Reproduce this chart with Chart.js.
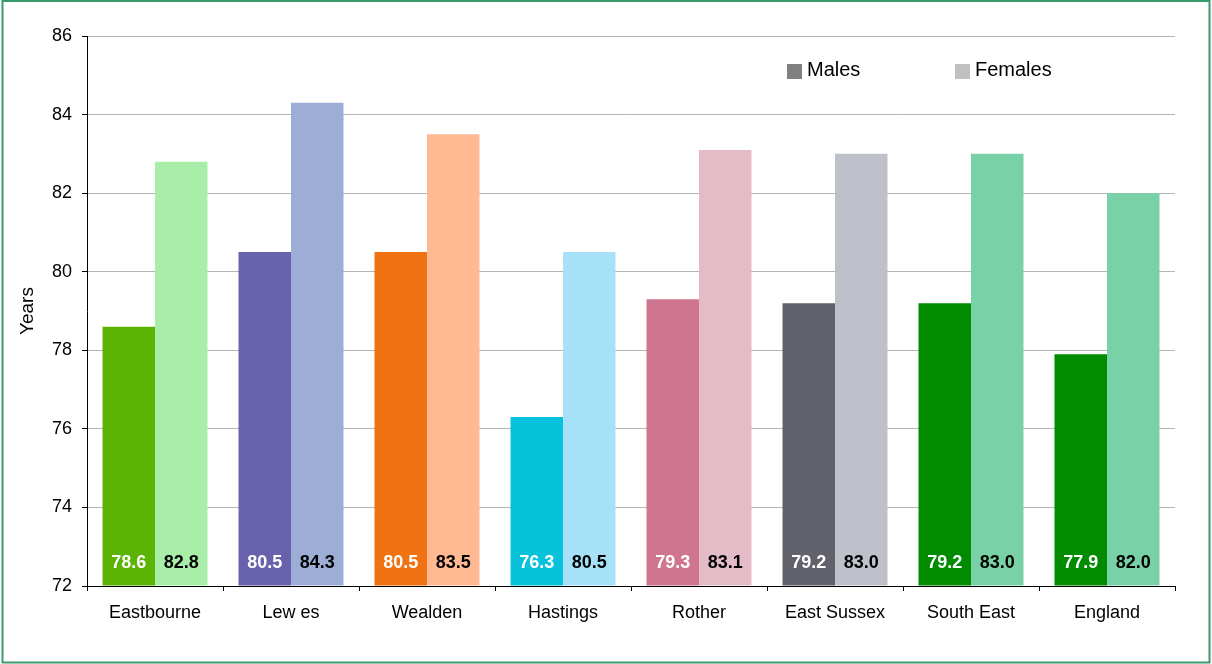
<!DOCTYPE html>
<html>
<head>
<meta charset="utf-8">
<script src="https://cdn.jsdelivr.net/npm/chart.js@4.4.0/dist/chart.umd.min.js"></script>
<style>
  html, body { margin: 0; padding: 0; background: #ffffff; }
  #wrap { width: 1212px; height: 664px; position: relative; }
  canvas { display: block; }
</style>
</head>
<body>
<div id="wrap"><canvas id="c" width="1212" height="664"></canvas></div>
<script>
const categories = ["Eastbourne", "Lew es", "Wealden", "Hastings", "Rother", "East Sussex", "South East", "England"];
const males   = [78.6, 80.5, 80.5, 76.3, 79.3, 79.2, 79.2, 77.9];
const females = [82.8, 84.3, 83.5, 80.5, 83.1, 83.0, 83.0, 82.0];
const yTicks  = [72, 74, 76, 78, 80, 82, 84, 86];
const seriesNames = ["Males", "Females"];

const maleColors   = ["#5bb304", "#6762ab", "#f07213", "#08c2dc", "#d07590", "#61616b", "#008b00", "#008b00"];
const femaleColors = ["#a8eea8", "#9caed6", "#ffb993", "#a6e1f7", "#e3bcc7", "#bec1c9", "#79d2a7", "#79d2a7"];
const legendColors = ["#808080", "#c0c0c0"];

const FONT = "'Liberation Sans', Arial, sans-serif";

const frame = {
  id: 'frame',
  afterDraw(chart) {
    const ctx = chart.ctx;
    ctx.save();
    ctx.strokeStyle = '#3a9a6c';
    ctx.lineWidth = 2;
    ctx.strokeRect(2.5, 1, 1207, 661.5);
    ctx.restore();
  }
};

const barLabels = {
  id: 'barLabels',
  afterDatasetsDraw(chart) {
    const ctx = chart.ctx;
    const yBase = chart.scales.y.getPixelForValue(72);
    ctx.save();
    ctx.font = "bold 18px " + FONT;
    ctx.textAlign = 'center';
    ctx.textBaseline = 'middle';
    chart.data.datasets.forEach((ds, i) => {
      const meta = chart.getDatasetMeta(i);
      meta.data.forEach((bar, j) => {
        ctx.fillStyle = i === 0 ? '#ffffff' : '#000000';
        ctx.fillText(ds.data[j].toFixed(1), bar.x, yBase - 23);
      });
    });
    ctx.restore();
  }
};

const customLegend = {
  id: 'customLegend',
  afterDraw(chart) {
    const ctx = chart.ctx;
    const ca = chart.chartArea;
    const items = [
      { x: ca.left + 700, label: seriesNames[0], color: legendColors[0] },
      { x: ca.left + 868, label: seriesNames[1], color: legendColors[1] }
    ];
    const y = ca.top + 28;
    ctx.save();
    ctx.font = "20px " + FONT;
    ctx.textBaseline = 'middle';
    ctx.textAlign = 'left';
    items.forEach(it => {
      ctx.fillStyle = it.color;
      ctx.fillRect(it.x, y, 15, 15);
      ctx.fillStyle = '#000000';
      ctx.fillText(it.label, it.x + 20, y + 6);
    });
    ctx.restore();
  }
};

new Chart(document.getElementById('c'), {
  type: 'bar',
  data: {
    labels: categories,
    datasets: [
      { label: seriesNames[0], data: males, backgroundColor: maleColors, borderWidth: 0, base: 72 },
      { label: seriesNames[1], data: females, backgroundColor: femaleColors, borderWidth: 0, base: 72 }
    ]
  },
  options: {
    responsive: false,
    animation: false,
    devicePixelRatio: 1,
    layout: { padding: { top: 36, right: 37, left: 0, bottom: 0 } },
    plugins: { legend: { display: false }, tooltip: { enabled: false } },
    datasets: { bar: { categoryPercentage: 0.772, barPercentage: 1.0 } },
    scales: {
      x: {
        offset: true,
        grid: { display: true, offset: true, drawOnChartArea: false, drawTicks: true, tickLength: 5, tickColor: '#000000' },
        border: { display: true, color: '#000000', width: 1 },
        ticks: { color: '#000000', font: { family: FONT, size: 18 }, padding: 11, maxRotation: 0, autoSkip: false },
        afterFit(scale) { scale.height = 78; }
      },
      y: {
        min: 72, max: 86,
        afterBuildTicks(scale) { scale.ticks = yTicks.map(v => ({ value: v })); },
        grid: { color: '#b4b4b4', lineWidth: 1, drawTicks: true, tickLength: 5, tickColor: '#000000' },
        border: { display: true, color: '#000000', width: 1 },
        ticks: { color: '#000000', font: { family: FONT, size: 18 }, padding: 10 },
        title: { display: true, text: 'Years', color: '#000000', font: { family: FONT, size: 19 }, padding: { top: 16, bottom: 0 } },
        afterFit(scale) { scale.width = 87; }
      }
    }
  },
  plugins: [barLabels, customLegend, frame]
});
</script>
</body>
</html>
